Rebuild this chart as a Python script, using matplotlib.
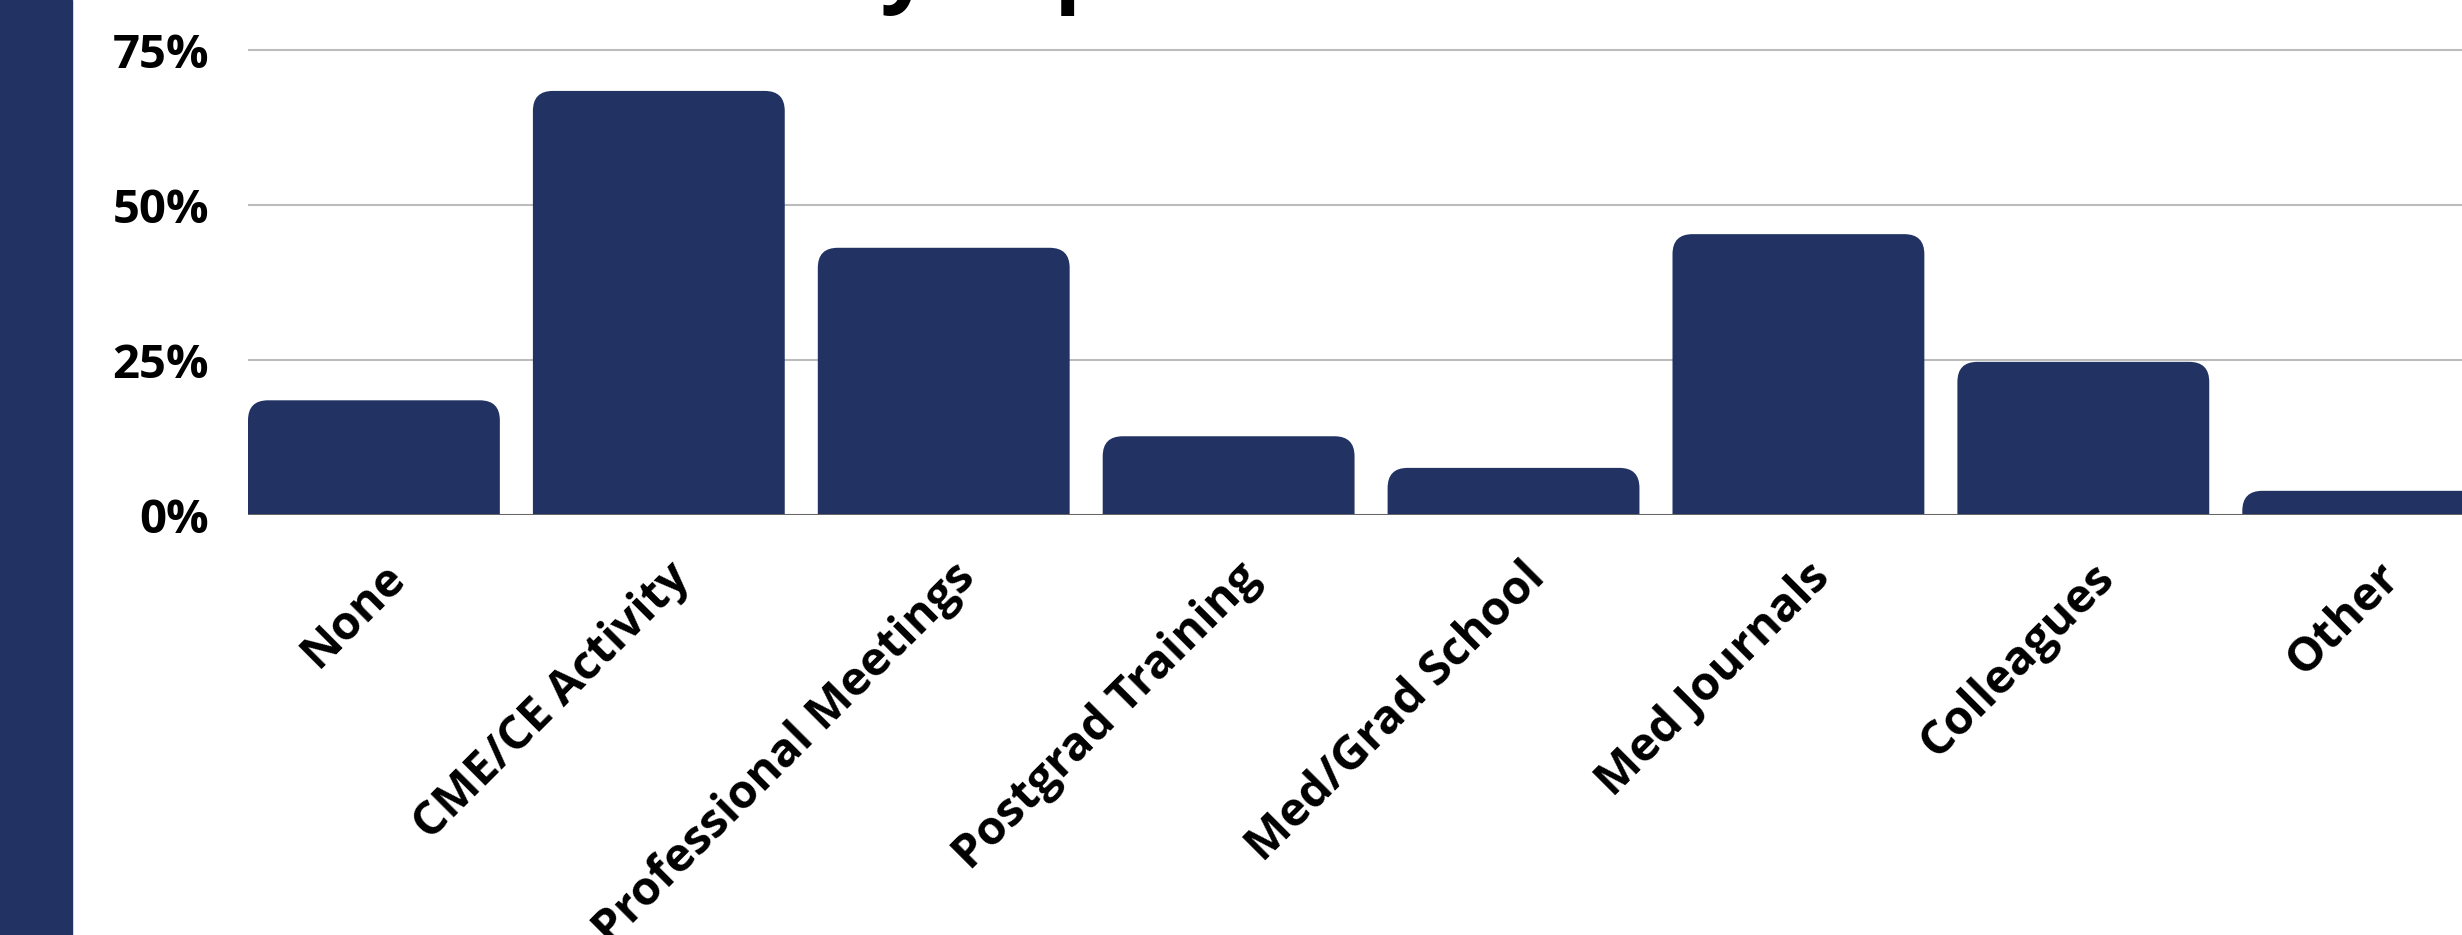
import matplotlib
matplotlib.use("Agg")
import matplotlib.pyplot as plt
import matplotlib.transforms as mtransforms
from matplotlib.patches import FancyBboxPatch, Rectangle

plt.rcParams['font.family'] = ['Open Sans', 'DejaVu Sans']
plt.rcParams['font.weight'] = 'bold'

## data
categories = ['None', 'CME/CE Activity', 'Professional Meetings', 'Postgrad Training',
              'Med/Grad School', 'Med Journals', 'Colleagues', 'Other']
values = [18.5, 68.4, 43.1, 12.7, 7.6, 45.3, 24.7, 3.9]
yticks = [0, 25, 50, 75]
ytick_labels = ['0%', '25%', '50%', '75%']
title = 'Education by Topic'

navy = '#213263'
W, H = 2462, 935
fig = plt.figure(figsize=(W / 100, H / 100), dpi=100)

## navy strip on the left
fig.patches.append(Rectangle((0, 0), 72 / W, 1, transform=fig.transFigure,
                             color=navy, zorder=0))

ymax = 76
px_per_unit = 6.2
ax_h = ymax * px_per_unit
ax = fig.add_axes([248 / W, 1 - 515 / H, 1 - 248 / W, ax_h / H])

bw = 0.884
xlo = -bw / 2
xhi = xlo + (W - 248) / 284.9
ax.set_xlim(xlo, xhi)
ax.set_ylim(0, ymax)

## rounded top corners, radius about 20 px
r_px = 20
rx = r_px / 284.9
ry = r_px / px_per_unit
for i, v in enumerate(values):
    p = FancyBboxPatch((i - bw / 2, -ry), bw, v + ry,
                       boxstyle="round,pad=0,rounding_size=%f" % rx,
                       mutation_aspect=ry / rx, facecolor=navy,
                       edgecolor='none', zorder=3)
    ax.add_patch(p)

for s in ax.spines.values():
    s.set_visible(False)
for t in yticks[1:]:
    ax.axhline(t, color='#bcbcbc', lw=1.5, zorder=1)
ax.axhline(0, color='#666666', lw=2.2, zorder=4)

ax.set_yticks(yticks)
ax.set_yticklabels(ytick_labels, fontsize=34, fontweight='bold')
ax.set_xticks(range(len(categories)))
ax.set_xticklabels(categories, fontsize=34, fontweight='bold', rotation=45,
                   ha='right', va='center', rotation_mode='anchor')
ax.tick_params(axis='y', length=0, pad=28)
ax.tick_params(axis='x', length=0, pad=40)

## nudge the rotated labels right, as in the original
shift = mtransforms.ScaledTranslation(24 / 100, 0, fig.dpi_scale_trans)
for lab in ax.get_xticklabels():
    lab.set_transform(lab.get_transform() + shift)

fig.text(360 / W, 1 + 6 / H, title, fontsize=64, fontweight='bold',
         ha='left', va='baseline')

plt.savefig("out.png", dpi=100)
